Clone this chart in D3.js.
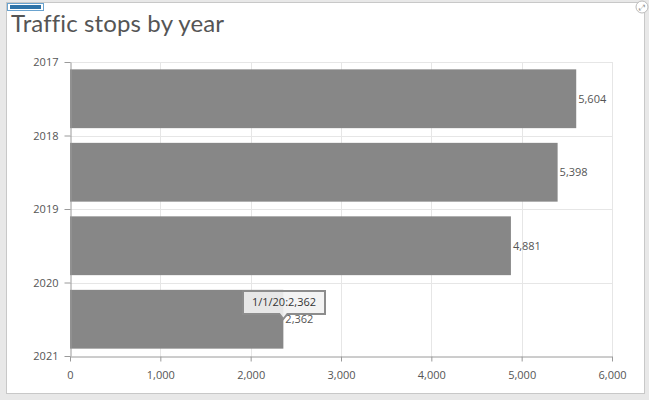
<!DOCTYPE html>
<html><head><meta charset="utf-8">
<script src="https://cdn.jsdelivr.net/npm/d3@7"></script>
<style>body{margin:0;background:#e8e8e8;}svg{display:block;font-family:"Open Sans",sans-serif;}</style>
</head><body>
<svg id="c" width="649" height="400"></svg>
<script>
const years = [2017, 2018, 2019, 2020];
const values = [5604, 5398, 4881, 2362];
const yTickLabels = ["2017", "2018", "2019", "2020", "2021"];
const xTicks = [0, 1000, 2000, 3000, 4000, 5000, 6000];
const tooltipLabel = "1/1/20:";

const svg = d3.select("#c");
// panel
svg.append("rect").attr("x", 6.5).attr("y", 2.5).attr("width", 638).attr("height", 391)
  .attr("fill", "#fff").attr("stroke", "#c8c8c8");
// small blue tab
svg.append("rect").attr("x", 7.5).attr("y", 3.5).attr("width", 36).attr("height", 7)
  .attr("fill", "#fff").attr("stroke", "#6aa3cf");
svg.append("rect").attr("x", 10).attr("y", 5).attr("width", 31).attr("height", 4)
  .attr("fill", "#2f73a8");
// expand icon
svg.append("circle").attr("cx", 642).attr("cy", 7).attr("r", 6).attr("fill", "#fff").attr("stroke", "#bbb");
svg.append("text").attr("x", 642).attr("y", 10).attr("text-anchor", "middle").attr("font-size", 8).attr("fill", "#999").text("⤢");

svg.append("text").attr("x", 11).attr("y", 32).attr("font-size", 24).attr("fill", "#555")
  .attr("font-family", "Lato, sans-serif").style("font-variant-ligatures", "none")
  .attr("textLength", 213).text("Traffic stops by year");

const x = d3.scaleLinear().domain([0, 6000]).range([70, 612]);
const y = d3.scaleLinear().domain([2017, 2021]).range([62, 356]);

// gridlines
svg.append("g").selectAll("line.v").data(xTicks.slice(1)).join("line")
  .attr("x1", d => Math.round(x(d)) + 0.5).attr("x2", d => Math.round(x(d)) + 0.5)
  .attr("y1", 62).attr("y2", 356).attr("stroke", "#e6e6e6");
svg.append("g").selectAll("line.h").data(yTickLabels.map(Number).slice(0, 4)).join("line")
  .attr("x1", 70).attr("x2", 612)
  .attr("y1", d => Math.round(y(d)) + 0.5).attr("y2", d => Math.round(y(d)) + 0.5)
  .attr("stroke", "#e6e6e6");

// bars
svg.append("g").selectAll("rect").data(years).join("rect")
  .attr("x", x(0)).attr("y", (d) => y(d + 0.1))
  .attr("width", (d, i) => x(values[i]) - x(0))
  .attr("height", d => y(d + 0.9) - y(d + 0.1))
  .attr("fill", "#878787");

// value labels
svg.append("g").selectAll("text").data(years).join("text")
  .attr("x", (d, i) => x(values[i]) + 2).attr("y", d => y(d + 0.5) + 4)
  .attr("font-size", 11).attr("fill", "#555")
  .text((d, i) => d3.format(",")(values[i]));

// axes
const yAxis = d3.axisLeft(y).tickValues(yTickLabels.map(Number)).tickFormat((d, i) => yTickLabels[i]).tickSize(6).tickSizeOuter(0);
const gy = svg.append("g").attr("transform", "translate(70.5,0)").call(yAxis);
const xAxis = d3.axisBottom(x).tickValues(xTicks).tickFormat(d3.format(",")).tickSize(5).tickSizeOuter(0);
const gx = svg.append("g").attr("transform", "translate(0,356.5)").call(xAxis);
[gy, gx].forEach(g => {
  g.select(".domain").attr("stroke", "#9a9a9a");
  g.selectAll(".tick line").attr("stroke", "#9a9a9a");
  g.selectAll("text").attr("font-size", 11).attr("fill", "#555").attr("font-family", "Open Sans, sans-serif");
});
gy.selectAll("text").attr("x", -12);
gx.selectAll("text").attr("dy", "1.3em");

// tooltip
const tx = x(values[3]);
const tip = svg.append("g");
tip.append("path")
  .attr("d", `M${243},${291} H${325} V${314} H${tx + 4} L${tx},${319} L${tx - 4},${314} H${243} Z`)
  .attr("fill", "#f2f2f2").attr("fill-opacity", 0.9).attr("stroke", "#8c8c8c").attr("stroke-width", 2);
tip.append("text").attr("x", 284).attr("y", 306).attr("text-anchor", "middle")
  .attr("font-size", 11).attr("fill", "#333").text(tooltipLabel + d3.format(",")(values[3]));
</script>
</body></html>
